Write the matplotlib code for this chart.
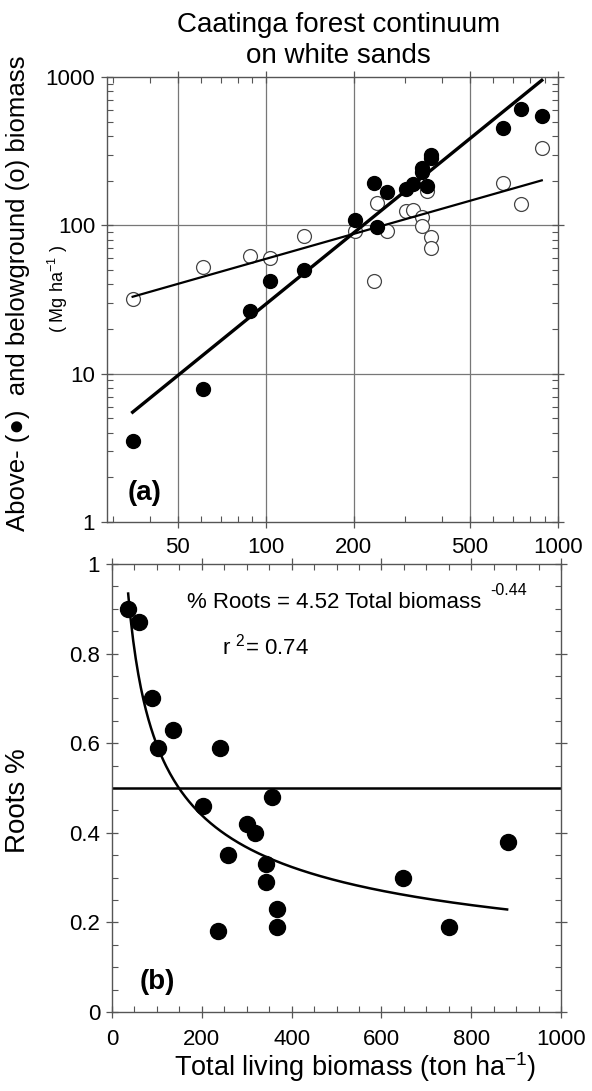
import matplotlib.pyplot as plt
import numpy as np
from matplotlib.ticker import FixedLocator, NullFormatter, MultipleLocator, LogLocator

plt.rcParams.update({'font.family': ['Liberation Sans', 'DejaVu Sans'],
                     'font.size': 16,
                     'mathtext.fontset': 'custom',
                     'mathtext.rm': 'Liberation Sans',
                     'mathtext.it': 'Liberation Sans:italic',
                     'mathtext.bf': 'Liberation Sans:bold',
                     'mathtext.default': 'regular'})

# sites: total living biomass, above/below ground biomass (Mg/ha), root fraction
total = [35, 61, 88, 103, 135, 202, 240, 235, 259, 301, 318, 343, 343, 368, 367, 356, 647, 750, 881]
above = [3.5, 7.9, 26.5, 42, 50, 108, 97, 193, 167, 175, 190, 230, 245, 283, 297, 184, 453, 607, 545]
below = [32, 52, 62, 60, 85, 91, 142, 42, 92, 125, 127, 114, 99, 84, 70, 170, 194, 140, 333]
roots = [0.90, 0.87, 0.70, 0.59, 0.63, 0.46, 0.59, 0.18, 0.35, 0.42, 0.40,
         0.33, 0.29, 0.23, 0.19, 0.48, 0.30, 0.19, 0.38]

# fitted lines (panel a), end points
fit_x = [35, 880]
above_fit = [5.5, 950]
below_fit = [33, 201]

# power fit (panel b): % Roots = a * Total^b
fit_a = 4.52
fit_b = -0.44
fit_range = [36, 880]

W, H = 592, 1091
fig = plt.figure(figsize=(W / 100, H / 100), dpi=100)

spine_col = '#555555'

# ---------- panel (a) ----------
ax1 = fig.add_axes([107 / W, 1 - 522 / H, (558 - 107) / W, (522 - 77) / H])
ax1.set_xscale('log')
ax1.set_yscale('log')
ax1.set_xlim(28.6, 1000)
ax1.set_ylim(1, 1000)

ax1.xaxis.set_major_locator(FixedLocator([50, 100, 200, 500, 1000]))
ax1.xaxis.set_minor_locator(LogLocator(base=10, subs=np.arange(2, 10)))
ax1.xaxis.set_minor_formatter(NullFormatter())
ax1.set_xticklabels(['50', '100', '200', '500', '1000'])
ax1.yaxis.set_major_locator(FixedLocator([1, 10, 100, 1000]))
ax1.yaxis.set_minor_locator(LogLocator(base=10, subs=np.arange(2, 10)))
ax1.yaxis.set_minor_formatter(NullFormatter())
ax1.set_yticklabels(['1', '10', '100', '1000'])

for x in [50, 100, 200, 500]:
    ax1.axvline(x, color='#777777', lw=0.9, zorder=0)
for y in [10, 100]:
    ax1.axhline(y, color='#777777', lw=0.9, zorder=0)

ax1.plot(fit_x, above_fit, color='black', lw=2.4, zorder=3)
ax1.plot(fit_x, below_fit, color='black', lw=1.6, zorder=3)
ax1.plot(total, below, 'o', ms=10, mfc='white', mec='#444444', mew=0.9, zorder=2)
ax1.plot(total, above, 'o', ms=10, mfc='black', mec='black', zorder=4)

ax1.text(0.045, 0.065, '(a)', transform=ax1.transAxes, fontsize=20,
         fontweight='bold', ha='left', va='center')

# ---------- panel (b) ----------
ax2 = fig.add_axes([112 / W, 1 - 1012 / H, (561 - 112) / W, (1012 - 564) / H])
ax2.set_xlim(0, 1000)
ax2.set_ylim(0, 1)
ax2.xaxis.set_major_locator(MultipleLocator(200))
ax2.xaxis.set_minor_locator(MultipleLocator(50))
ax2.yaxis.set_major_locator(FixedLocator([0, 0.2, 0.4, 0.6, 0.8, 1]))
ax2.yaxis.set_minor_locator(MultipleLocator(0.05))
ax2.set_yticklabels(['0', '0.2', '0.4', '0.6', '0.8', '1'])

xc = np.linspace(fit_range[0], fit_range[1], 300)
ax2.plot(xc, fit_a * xc ** fit_b, color='black', lw=1.8, zorder=3)
ax2.axhline(0.5, color='black', lw=1.8, zorder=2)
ax2.plot(total, roots, 'o', ms=11.5, mfc='black', mec='black', zorder=4)

ax2.text(167, 0.915, '%% Roots = %.2f Total biomass' % fit_a, fontsize=16,
         ha='left', va='center')
ax2.text(842, 0.94, '%.2f' % fit_b, fontsize=11.5, ha='left', va='center')
ax2.text(0.246, 0.815, r'r $^{2}$= 0.74', transform=ax2.transAxes, fontsize=16,
         ha='left', va='center')
ax2.text(0.062, 0.067, '(b)', transform=ax2.transAxes, fontsize=20,
         fontweight='bold', ha='left', va='center')

for ax in (ax1, ax2):
    for s in ax.spines.values():
        s.set_color(spine_col)
        s.set_linewidth(1.0)
    ax.tick_params(which='major', direction='inout', length=9, width=0.9,
                   color=spine_col, labelsize=16, top=True, right=True, pad=4)
    ax.tick_params(which='minor', direction='in', length=4, width=0.8,
                   color=spine_col, top=True, right=True)

ax1.tick_params(axis='x', which='major', pad=6)
ax2.tick_params(axis='x', which='major', pad=8)

# ---------- labels ----------
fig.text(0.572, 0.963, 'Caatinga forest continuum\non white sands', ha='center',
         va='center', fontsize=20, linespacing=1.22)
fig.text(0.031, 0.731, 'Above- (\u25cf)  and belowground (o) biomass', rotation=90,
         ha='center', va='center', fontsize=18.5)
fig.text(0.098, 0.735, r'( Mg ha$^{-1}$ )', rotation=90, ha='center', va='center',
         fontsize=13)
fig.text(0.031, 0.266, 'Roots %', rotation=90, ha='center', va='center', fontsize=20)
fig.text(0.600, 0.006, r'Total living biomass (ton ha$^{-1}$)', ha='center',
         va='bottom', fontsize=19.5)

fig.savefig('out.png', dpi=100)
